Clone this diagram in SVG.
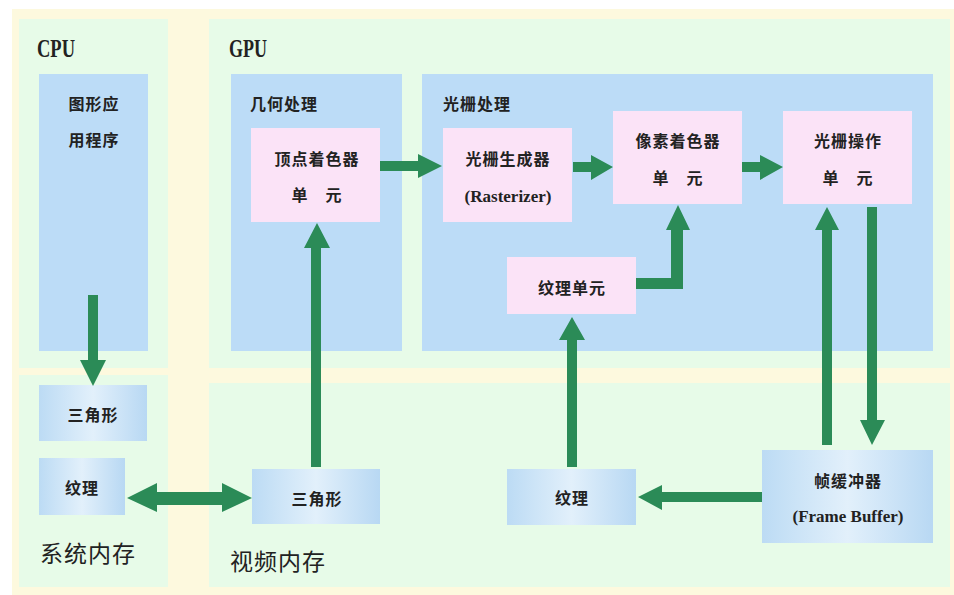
<svg xmlns="http://www.w3.org/2000/svg" width="954" height="595" viewBox="0 0 954 595">
<defs>
<linearGradient id="bg" x1="0" y1="0" x2="1" y2="0">
<stop offset="0" stop-color="#bcdbf4"/>
<stop offset="0.5" stop-color="#e2f0fb"/>
<stop offset="1" stop-color="#b8d8f3"/>
</linearGradient>
<style>
.panel{fill:#e7fbe8}
.inner{fill:#bcdcf7}
.pink{fill:#fbe3f7}
.blue{fill:url(#bg)}
.g{fill:#2b8b57}
.t{font-family:"Noto Sans CJK SC","Noto Sans CJK TC",sans-serif;font-weight:bold;font-size:16px;fill:#222;text-anchor:middle;letter-spacing:1px}
.tl{font-family:"Noto Sans CJK SC",sans-serif;font-weight:bold;font-size:16px;fill:#222;letter-spacing:1px}
.e{font-family:"Liberation Serif",serif;font-weight:bold;font-size:17px;fill:#222;text-anchor:middle}
.h{font-family:"Liberation Serif",serif;font-weight:bold;font-size:25px;fill:#222}
.big{font-family:"Noto Sans CJK SC",sans-serif;font-size:23px;fill:#222;letter-spacing:1px}
</style>
</defs>
<rect x="0" y="0" width="954" height="595" fill="#ffffff"/>
<rect x="12" y="9" width="942" height="586" fill="#fdf9de"/>
<g id="panels">
<rect class="panel" x="19" y="19" width="149" height="349"/>
<rect class="panel" x="19" y="375" width="149" height="212"/>
<rect class="panel" x="209" y="19" width="741" height="349"/>
<rect class="panel" x="209" y="383" width="741" height="204"/>
<text class="h" x="37" y="57" textLength="38" lengthAdjust="spacingAndGlyphs">CPU</text>
<text class="h" x="229" y="57" textLength="38" lengthAdjust="spacingAndGlyphs">GPU</text>
<text class="big" x="40" y="562">系统内存</text>
<text class="big" x="230" y="570">视频内存</text>
</g>
<g id="app">
<rect class="inner" x="39" y="74" width="109" height="277"/>
<text class="t" x="94" y="110">图形应</text>
<text class="t" x="94" y="146">用程序</text>
</g>
<g id="geometry">
<rect class="inner" x="231" y="74" width="171" height="277"/>
<text class="tl" x="250" y="110">几何处理</text>
</g>
<g id="raster">
<rect class="inner" x="422" y="74" width="511" height="277"/>
<text class="tl" x="443" y="110">光栅处理</text>
</g>
<g id="vertex">
<rect class="pink" x="251" y="128" width="129" height="94"/>
<text class="t" x="317" y="165">顶点着色器</text>
<text class="t" x="317" y="201">单　元</text>
</g>
<g id="rasterizer">
<rect class="pink" x="443" y="128" width="129" height="94"/>
<text class="t" x="508" y="165">光栅生成器</text>
<text class="e" x="508" y="202">(Rasterizer)</text>
</g>
<g id="pixel">
<rect class="pink" x="613" y="111" width="129" height="93"/>
<text class="t" x="678" y="147">像素着色器</text>
<text class="t" x="678" y="184">单　元</text>
</g>
<g id="rop">
<rect class="pink" x="783" y="111" width="129" height="93"/>
<text class="t" x="848" y="147">光栅操作</text>
<text class="t" x="848" y="184">单　元</text>
</g>
<g id="texunit">
<rect class="pink" x="507" y="257" width="129" height="57"/>
<text class="t" x="572" y="294">纹理单元</text>
</g>
<g id="sys-tri">
<rect class="blue" x="39" y="385" width="108" height="56"/>
<text class="t" x="93" y="421">三角形</text>
</g>
<g id="sys-tex">
<rect class="blue" x="39" y="458" width="86" height="57"/>
<text class="t" x="82" y="494">纹理</text>
</g>
<g id="vid-tri">
<rect class="blue" x="252" y="469" width="128" height="55"/>
<text class="t" x="317" y="505">三角形</text>
</g>
<g id="vid-tex">
<rect class="blue" x="507" y="469" width="129" height="56"/>
<text class="t" x="572" y="504">纹理</text>
</g>
<g id="framebuffer">
<rect class="blue" x="762" y="450" width="171" height="93"/>
<text class="t" x="848" y="487">帧缓冲器</text>
<text class="e" x="848" y="522">(Frame Buffer)</text>
</g>
<g id="connectors">
<polygon class="g" points="88,295 98,295 98,360 106,360 93,386 80,360 88,360"/>
<polygon class="g" points="311,467 321,467 321,248 330,248 317,223 304,248 311,248"/>
<polygon class="g" points="380,161 418,161 418,154 442,166 418,178 418,171 380,171"/>
<polygon class="g" points="573,162 591,162 591,155 613,167 591,180 591,172 573,172"/>
<polygon class="g" points="742,162 760,162 760,155 783,167 760,180 760,172 742,172"/>
<polygon class="g" points="636,278 671,278 671,230 666,230 678,205 690,230 683,230 683,289 636,289"/>
<polygon class="g" points="822,445 832,445 832,230 839,230 827,207 815,230 822,230"/>
<polygon class="g" points="867,207 877,207 877,420 885,420 872,445 860,420 867,420"/>
<polygon class="g" points="567,467 577,467 577,340 585,340 572,317 559,340 567,340"/>
<polygon class="g" points="762,492 762,502 662,502 662,510 638,497 662,485 662,492"/>
<polygon class="g" points="127,498 157,483 157,492 222,492 222,483 252,498 222,512 222,505 157,505 157,512"/>
</g>
</svg>
